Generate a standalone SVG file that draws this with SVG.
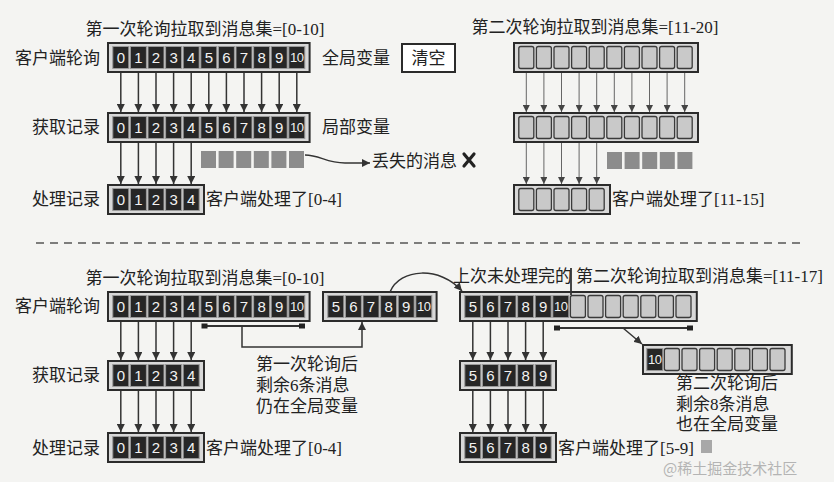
<svg xmlns="http://www.w3.org/2000/svg" width="834" height="482" viewBox="0 0 834 482">
<defs>
<style>
.bg{fill:#f4f4f2}
.t{font-family:"Liberation Serif","Noto Sans CJK SC",serif;font-size:17px;fill:#222}
.n{font-family:"Liberation Sans","Open Sans",sans-serif;font-size:15px;fill:#f2f2f2;text-anchor:middle}
.n10{font-family:"Liberation Sans","Open Sans",sans-serif;font-size:13px;fill:#f2f2f2;text-anchor:middle;letter-spacing:-0.5px}
.ob{fill:#d8d8d8;stroke:#2b2b2b;stroke-width:2}
.dc{fill:#262626;stroke:#9a9a9a;stroke-width:1}
.lc{fill:#c9c9c9;stroke:#3a3a3a;stroke-width:1.3}
.lost{fill:#8c8c8c}
.ar{stroke:#333;stroke-width:1.5;fill:none;marker-end:url(#ah)}
.art{stroke:#666;stroke-width:1;fill:none;marker-end:url(#ahs)}
.ln{stroke:#333;stroke-width:1.8;fill:none}
.sq{fill:#222}
</style>
<marker id="ah" viewBox="0 0 8 8" refX="8" refY="4" markerWidth="8" markerHeight="8" markerUnits="userSpaceOnUse" orient="auto"><path d="M0,0 L8,4 L0,8 z" fill="#333"/></marker>
<marker id="ahs" viewBox="0 0 8 8" refX="8" refY="4" markerWidth="7" markerHeight="7" markerUnits="userSpaceOnUse" orient="auto"><path d="M0,0 L8,4 L0,8 z" fill="#444"/></marker>
</defs>
<rect class="bg" x="0" y="0" width="834" height="482"/>

<!-- ===== TOP SECTION ===== -->
<text class="t" x="205" y="35" text-anchor="middle">第一次轮询拉取到消息集=[0-10]</text>
<text class="t" x="595" y="33" text-anchor="middle">第二次轮询拉取到消息集=[11-20]</text>

<g id="top-left-poll">
<text class="t" x="100" y="64" text-anchor="end">客户端轮询</text>
<rect class="ob" x="108" y="43" width="201.6" height="29"/>
<rect class="dc" x="112.8" y="46.5" width="16" height="22"/><text class="n" x="120.8" y="63">0</text>
<rect class="dc" x="130.4" y="46.5" width="16" height="22"/><text class="n" x="138.4" y="63">1</text>
<rect class="dc" x="148" y="46.5" width="16" height="22"/><text class="n" x="156" y="63">2</text>
<rect class="dc" x="165.6" y="46.5" width="16" height="22"/><text class="n" x="173.6" y="63">3</text>
<rect class="dc" x="183.2" y="46.5" width="16" height="22"/><text class="n" x="191.2" y="63">4</text>
<rect class="dc" x="200.8" y="46.5" width="16" height="22"/><text class="n" x="208.8" y="63">5</text>
<rect class="dc" x="218.4" y="46.5" width="16" height="22"/><text class="n" x="226.4" y="63">6</text>
<rect class="dc" x="236" y="46.5" width="16" height="22"/><text class="n" x="244" y="63">7</text>
<rect class="dc" x="253.6" y="46.5" width="16" height="22"/><text class="n" x="261.6" y="63">8</text>
<rect class="dc" x="271.2" y="46.5" width="16" height="22"/><text class="n" x="279.2" y="63">9</text>
<rect class="dc" x="288.8" y="46.5" width="16" height="22"/><text class="n10" x="296.8" y="62">10</text>
<text class="t" x="322" y="64">全局变量</text>
</g>

<g id="top-clear">
<rect x="402" y="44" width="53" height="28" fill="#ffffff" stroke="#2b2b2b" stroke-width="2"/>
<text class="t" x="428.5" y="64" text-anchor="middle">清空</text>
</g>

<g id="top-left-fetch">
<text class="t" x="100" y="133" text-anchor="end">获取记录</text>
<rect class="ob" x="108" y="113" width="201.6" height="29"/>
<rect class="dc" x="112.8" y="116.5" width="16" height="22"/><text class="n" x="120.8" y="133">0</text>
<rect class="dc" x="130.4" y="116.5" width="16" height="22"/><text class="n" x="138.4" y="133">1</text>
<rect class="dc" x="148" y="116.5" width="16" height="22"/><text class="n" x="156" y="133">2</text>
<rect class="dc" x="165.6" y="116.5" width="16" height="22"/><text class="n" x="173.6" y="133">3</text>
<rect class="dc" x="183.2" y="116.5" width="16" height="22"/><text class="n" x="191.2" y="133">4</text>
<rect class="dc" x="200.8" y="116.5" width="16" height="22"/><text class="n" x="208.8" y="133">5</text>
<rect class="dc" x="218.4" y="116.5" width="16" height="22"/><text class="n" x="226.4" y="133">6</text>
<rect class="dc" x="236" y="116.5" width="16" height="22"/><text class="n" x="244" y="133">7</text>
<rect class="dc" x="253.6" y="116.5" width="16" height="22"/><text class="n" x="261.6" y="133">8</text>
<rect class="dc" x="271.2" y="116.5" width="16" height="22"/><text class="n" x="279.2" y="133">9</text>
<rect class="dc" x="288.8" y="116.5" width="16" height="22"/><text class="n10" x="296.8" y="132">10</text>
<text class="t" x="322" y="133">局部变量</text>
</g>

<g id="top-left-lost">
<rect class="lost" x="201" y="151" width="15" height="17"/>
<rect class="lost" x="218.6" y="151" width="15" height="17"/>
<rect class="lost" x="236.2" y="151" width="15" height="17"/>
<rect class="lost" x="253.8" y="151" width="15" height="17"/>
<rect class="lost" x="271.4" y="151" width="15" height="17"/>
<rect class="lost" x="289" y="151" width="15" height="17"/>
<text class="t" x="372" y="167">丢失的消息</text>
<path d="M464,154 L474,166 M474,154 L464,166" stroke="#222" stroke-width="3.2" stroke-linecap="round" fill="none"/>
</g>

<g id="top-left-process">
<text class="t" x="100" y="205" text-anchor="end">处理记录</text>
<rect class="ob" x="108" y="185" width="96" height="29"/>
<rect class="dc" x="112.8" y="188.5" width="16" height="22"/><text class="n" x="120.8" y="205">0</text>
<rect class="dc" x="130.4" y="188.5" width="16" height="22"/><text class="n" x="138.4" y="205">1</text>
<rect class="dc" x="148" y="188.5" width="16" height="22"/><text class="n" x="156" y="205">2</text>
<rect class="dc" x="165.6" y="188.5" width="16" height="22"/><text class="n" x="173.6" y="205">3</text>
<rect class="dc" x="183.2" y="188.5" width="16" height="22"/><text class="n" x="191.2" y="205">4</text>
<text class="t" x="206" y="205">客户端处理了[0-4]</text>
</g>

<g id="top-right-poll">
<rect class="ob" x="514" y="43" width="184" height="29"/>
<rect class="lc" x="518.8" y="46.5" width="15" height="22" rx="2"/>
<rect class="lc" x="536.4" y="46.5" width="15" height="22" rx="2"/>
<rect class="lc" x="554" y="46.5" width="15" height="22" rx="2"/>
<rect class="lc" x="571.6" y="46.5" width="15" height="22" rx="2"/>
<rect class="lc" x="589.2" y="46.5" width="15" height="22" rx="2"/>
<rect class="lc" x="606.8" y="46.5" width="15" height="22" rx="2"/>
<rect class="lc" x="624.4" y="46.5" width="15" height="22" rx="2"/>
<rect class="lc" x="642" y="46.5" width="15" height="22" rx="2"/>
<rect class="lc" x="659.6" y="46.5" width="15" height="22" rx="2"/>
<rect class="lc" x="677.2" y="46.5" width="15" height="22" rx="2"/>
</g>

<g id="top-right-fetch">
<rect class="ob" x="514" y="113" width="184" height="29"/>
<rect class="lc" x="518.8" y="116.5" width="15" height="22" rx="2"/>
<rect class="lc" x="536.4" y="116.5" width="15" height="22" rx="2"/>
<rect class="lc" x="554" y="116.5" width="15" height="22" rx="2"/>
<rect class="lc" x="571.6" y="116.5" width="15" height="22" rx="2"/>
<rect class="lc" x="589.2" y="116.5" width="15" height="22" rx="2"/>
<rect class="lc" x="606.8" y="116.5" width="15" height="22" rx="2"/>
<rect class="lc" x="624.4" y="116.5" width="15" height="22" rx="2"/>
<rect class="lc" x="642" y="116.5" width="15" height="22" rx="2"/>
<rect class="lc" x="659.6" y="116.5" width="15" height="22" rx="2"/>
<rect class="lc" x="677.2" y="116.5" width="15" height="22" rx="2"/>
</g>

<g id="top-right-lost">
<rect class="lost" x="607" y="152" width="15" height="17"/>
<rect class="lost" x="624.6" y="152" width="15" height="17"/>
<rect class="lost" x="642.2" y="152" width="15" height="17"/>
<rect class="lost" x="659.8" y="152" width="15" height="17"/>
<rect class="lost" x="677.4" y="152" width="15" height="17"/>
</g>

<g id="top-right-process">
<rect class="ob" x="514" y="185" width="96" height="29"/>
<rect class="lc" x="518.8" y="188.5" width="15" height="22" rx="2"/>
<rect class="lc" x="536.4" y="188.5" width="15" height="22" rx="2"/>
<rect class="lc" x="554" y="188.5" width="15" height="22" rx="2"/>
<rect class="lc" x="571.6" y="188.5" width="15" height="22" rx="2"/>
<rect class="lc" x="589.2" y="188.5" width="15" height="22" rx="2"/>
<text class="t" x="612" y="205">客户端处理了[11-15]</text>
</g>

<line id="divider" x1="36" y1="243" x2="804" y2="243" stroke="#555" stroke-width="1.5" stroke-dasharray="8 6"/>

<!-- ===== BOTTOM SECTION ===== -->
<text class="t" x="205" y="284" text-anchor="middle">第一次轮询拉取到消息集=[0-10]</text>
<text class="t" x="453" y="282">上次未处理完的</text>
<text class="t" x="576" y="282">第二次轮询拉取到消息集=[11-17]</text>

<g id="bot-left-poll">
<text class="t" x="100" y="312" text-anchor="end">客户端轮询</text>
<rect class="ob" x="108" y="292" width="201.6" height="29"/>
<rect class="dc" x="112.8" y="295.5" width="16" height="22"/><text class="n" x="120.8" y="312">0</text>
<rect class="dc" x="130.4" y="295.5" width="16" height="22"/><text class="n" x="138.4" y="312">1</text>
<rect class="dc" x="148" y="295.5" width="16" height="22"/><text class="n" x="156" y="312">2</text>
<rect class="dc" x="165.6" y="295.5" width="16" height="22"/><text class="n" x="173.6" y="312">3</text>
<rect class="dc" x="183.2" y="295.5" width="16" height="22"/><text class="n" x="191.2" y="312">4</text>
<rect class="dc" x="200.8" y="295.5" width="16" height="22"/><text class="n" x="208.8" y="312">5</text>
<rect class="dc" x="218.4" y="295.5" width="16" height="22"/><text class="n" x="226.4" y="312">6</text>
<rect class="dc" x="236" y="295.5" width="16" height="22"/><text class="n" x="244" y="312">7</text>
<rect class="dc" x="253.6" y="295.5" width="16" height="22"/><text class="n" x="261.6" y="312">8</text>
<rect class="dc" x="271.2" y="295.5" width="16" height="22"/><text class="n" x="279.2" y="312">9</text>
<rect class="dc" x="288.8" y="295.5" width="16" height="22"/><text class="n10" x="296.8" y="311">10</text>
</g>

<g id="bot-left-remain">
<rect class="ob" x="323" y="292" width="113.6" height="29"/>
<rect class="dc" x="327.8" y="295.5" width="16" height="22"/><text class="n" x="335.8" y="312">5</text>
<rect class="dc" x="345.4" y="295.5" width="16" height="22"/><text class="n" x="353.4" y="312">6</text>
<rect class="dc" x="363" y="295.5" width="16" height="22"/><text class="n" x="371" y="312">7</text>
<rect class="dc" x="380.6" y="295.5" width="16" height="22"/><text class="n" x="388.6" y="312">8</text>
<rect class="dc" x="398.2" y="295.5" width="16" height="22"/><text class="n" x="406.2" y="312">9</text>
<rect class="dc" x="415.8" y="295.5" width="16" height="22"/><text class="n10" x="423.8" y="311">10</text>
</g>

<g id="bot-left-note">
<text class="t" x="256" y="370">第一次轮询后</text>
<text class="t" x="256" y="391">剩余6条消息</text>
<text class="t" x="256" y="412">仍在全局变量</text>
</g>

<g id="bot-left-fetch">
<text class="t" x="100" y="381" text-anchor="end">获取记录</text>
<rect class="ob" x="108" y="361" width="96" height="29"/>
<rect class="dc" x="112.8" y="364.5" width="16" height="22"/><text class="n" x="120.8" y="381">0</text>
<rect class="dc" x="130.4" y="364.5" width="16" height="22"/><text class="n" x="138.4" y="381">1</text>
<rect class="dc" x="148" y="364.5" width="16" height="22"/><text class="n" x="156" y="381">2</text>
<rect class="dc" x="165.6" y="364.5" width="16" height="22"/><text class="n" x="173.6" y="381">3</text>
<rect class="dc" x="183.2" y="364.5" width="16" height="22"/><text class="n" x="191.2" y="381">4</text>
</g>

<g id="bot-left-process">
<text class="t" x="100" y="454" text-anchor="end">处理记录</text>
<rect class="ob" x="108" y="433" width="96" height="29"/>
<rect class="dc" x="112.8" y="436.5" width="16" height="22"/><text class="n" x="120.8" y="453">0</text>
<rect class="dc" x="130.4" y="436.5" width="16" height="22"/><text class="n" x="138.4" y="453">1</text>
<rect class="dc" x="148" y="436.5" width="16" height="22"/><text class="n" x="156" y="453">2</text>
<rect class="dc" x="165.6" y="436.5" width="16" height="22"/><text class="n" x="173.6" y="453">3</text>
<rect class="dc" x="183.2" y="436.5" width="16" height="22"/><text class="n" x="191.2" y="453">4</text>
<text class="t" x="206" y="454">客户端处理了[0-4]</text>
</g>

<g id="bot-right-poll">
<rect class="ob" x="460" y="292" width="236.8" height="29"/>
<rect class="dc" x="464.8" y="295.5" width="16" height="22"/><text class="n" x="472.8" y="312">5</text>
<rect class="dc" x="482.4" y="295.5" width="16" height="22"/><text class="n" x="490.4" y="312">6</text>
<rect class="dc" x="500" y="295.5" width="16" height="22"/><text class="n" x="508" y="312">7</text>
<rect class="dc" x="517.6" y="295.5" width="16" height="22"/><text class="n" x="525.6" y="312">8</text>
<rect class="dc" x="535.2" y="295.5" width="16" height="22"/><text class="n" x="543.2" y="312">9</text>
<rect class="dc" x="552.8" y="295.5" width="16" height="22"/><text class="n10" x="560.8" y="311">10</text>
<rect class="lc" x="570.4" y="295.5" width="15" height="22" rx="2"/>
<rect class="lc" x="588" y="295.5" width="15" height="22" rx="2"/>
<rect class="lc" x="605.6" y="295.5" width="15" height="22" rx="2"/>
<rect class="lc" x="623.2" y="295.5" width="15" height="22" rx="2"/>
<rect class="lc" x="640.8" y="295.5" width="15" height="22" rx="2"/>
<rect class="lc" x="658.4" y="295.5" width="15" height="22" rx="2"/>
<rect class="lc" x="676" y="295.5" width="15" height="22" rx="2"/>
</g>

<g id="bot-right-remain">
<rect class="ob" x="643" y="345" width="148.8" height="29"/>
<rect class="dc" x="646.8" y="348.5" width="16" height="22"/><text class="n10" x="654.8" y="364">10</text>
<rect class="lc" x="664.4" y="348.5" width="15" height="22" rx="2"/>
<rect class="lc" x="682" y="348.5" width="15" height="22" rx="2"/>
<rect class="lc" x="699.6" y="348.5" width="15" height="22" rx="2"/>
<rect class="lc" x="717.2" y="348.5" width="15" height="22" rx="2"/>
<rect class="lc" x="734.8" y="348.5" width="15" height="22" rx="2"/>
<rect class="lc" x="752.4" y="348.5" width="15" height="22" rx="2"/>
<rect class="lc" x="770" y="348.5" width="15" height="22" rx="2"/>
</g>

<g id="bot-right-note">
<text class="t" x="676" y="389">第二次轮询后</text>
<text class="t" x="676" y="410">剩余8条消息</text>
<text class="t" x="676" y="430">也在全局变量</text>
</g>

<g id="bot-right-fetch">
<rect class="ob" x="460" y="361" width="96" height="29"/>
<rect class="dc" x="464.8" y="364.5" width="16" height="22"/><text class="n" x="472.8" y="381">5</text>
<rect class="dc" x="482.4" y="364.5" width="16" height="22"/><text class="n" x="490.4" y="381">6</text>
<rect class="dc" x="500" y="364.5" width="16" height="22"/><text class="n" x="508" y="381">7</text>
<rect class="dc" x="517.6" y="364.5" width="16" height="22"/><text class="n" x="525.6" y="381">8</text>
<rect class="dc" x="535.2" y="364.5" width="16" height="22"/><text class="n" x="543.2" y="381">9</text>
</g>

<g id="bot-right-process">
<rect class="ob" x="460" y="433" width="96" height="29"/>
<rect class="dc" x="464.8" y="436.5" width="16" height="22"/><text class="n" x="472.8" y="453">5</text>
<rect class="dc" x="482.4" y="436.5" width="16" height="22"/><text class="n" x="490.4" y="453">6</text>
<rect class="dc" x="500" y="436.5" width="16" height="22"/><text class="n" x="508" y="453">7</text>
<rect class="dc" x="517.6" y="436.5" width="16" height="22"/><text class="n" x="525.6" y="453">8</text>
<rect class="dc" x="535.2" y="436.5" width="16" height="22"/><text class="n" x="543.2" y="453">9</text>
<text class="t" x="558" y="454">客户端处理了[5-9]</text>
<rect x="701" y="440" width="11" height="13" fill="#a8a8a8"/>
</g>

<text id="watermark" x="663" y="474" font-family="'Noto Sans CJK SC',sans-serif" font-size="15" fill="#b4b4b4">@稀土掘金技术社区</text>

<!-- ===== CONNECTORS ===== -->
<g id="connectors">
<line class="ar" x1="120.8" y1="73" x2="120.8" y2="112"/>
<line class="ar" x1="138.4" y1="73" x2="138.4" y2="112"/>
<line class="ar" x1="156" y1="73" x2="156" y2="112"/>
<line class="ar" x1="173.6" y1="73" x2="173.6" y2="112"/>
<line class="ar" x1="191.2" y1="73" x2="191.2" y2="112"/>
<line class="ar" x1="208.8" y1="73" x2="208.8" y2="112"/>
<line class="ar" x1="226.4" y1="73" x2="226.4" y2="112"/>
<line class="ar" x1="244" y1="73" x2="244" y2="112"/>
<line class="ar" x1="261.6" y1="73" x2="261.6" y2="112"/>
<line class="ar" x1="279.2" y1="73" x2="279.2" y2="112"/>
<line class="ar" x1="296.8" y1="73" x2="296.8" y2="112"/>
<line class="ar" x1="120.8" y1="143" x2="120.8" y2="184"/>
<line class="ar" x1="138.4" y1="143" x2="138.4" y2="184"/>
<line class="ar" x1="156" y1="143" x2="156" y2="184"/>
<line class="ar" x1="173.6" y1="143" x2="173.6" y2="184"/>
<line class="ar" x1="191.2" y1="143" x2="191.2" y2="184"/>
<path class="ar" d="M305,155 C320,155 326,163 345,163 L370,163"/>
<line class="art" x1="526.3" y1="73" x2="526.3" y2="112"/>
<line class="art" x1="543.9" y1="73" x2="543.9" y2="112"/>
<line class="art" x1="561.5" y1="73" x2="561.5" y2="112"/>
<line class="art" x1="579.1" y1="73" x2="579.1" y2="112"/>
<line class="art" x1="596.7" y1="73" x2="596.7" y2="112"/>
<line class="art" x1="614.3" y1="73" x2="614.3" y2="112"/>
<line class="art" x1="631.9" y1="73" x2="631.9" y2="112"/>
<line class="art" x1="649.5" y1="73" x2="649.5" y2="112"/>
<line class="art" x1="667.1" y1="73" x2="667.1" y2="112"/>
<line class="art" x1="684.7" y1="73" x2="684.7" y2="112"/>
<line class="art" x1="526.3" y1="143" x2="526.3" y2="184"/>
<line class="art" x1="543.9" y1="143" x2="543.9" y2="184"/>
<line class="art" x1="561.5" y1="143" x2="561.5" y2="184"/>
<line class="art" x1="579.1" y1="143" x2="579.1" y2="184"/>
<line class="art" x1="596.7" y1="143" x2="596.7" y2="184"/>
<line class="ar" x1="120.8" y1="322" x2="120.8" y2="360"/>
<line class="ar" x1="138.4" y1="322" x2="138.4" y2="360"/>
<line class="ar" x1="156" y1="322" x2="156" y2="360"/>
<line class="ar" x1="173.6" y1="322" x2="173.6" y2="360"/>
<line class="ar" x1="191.2" y1="322" x2="191.2" y2="360"/>
<line class="ar" x1="120.8" y1="391" x2="120.8" y2="432"/>
<line class="ar" x1="138.4" y1="391" x2="138.4" y2="432"/>
<line class="ar" x1="156" y1="391" x2="156" y2="432"/>
<line class="ar" x1="173.6" y1="391" x2="173.6" y2="432"/>
<line class="ar" x1="191.2" y1="391" x2="191.2" y2="432"/>
<line class="ln" x1="205" y1="326" x2="302" y2="326"/>
<rect class="sq" x="201.5" y="323.5" width="6" height="5"/>
<rect class="sq" x="299" y="323.5" width="6" height="5"/>
<path class="ar" d="M242,326 L242,347 L362,347 L362,322"/>
<path class="ar" d="M390,292 C400,268 440,266 462,291"/>
<line class="ln" x1="571" y1="268" x2="571" y2="295"/>
<line class="ar" x1="472.8" y1="322" x2="472.8" y2="360"/>
<line class="ar" x1="490.4" y1="322" x2="490.4" y2="360"/>
<line class="ar" x1="508" y1="322" x2="508" y2="360"/>
<line class="ar" x1="525.6" y1="322" x2="525.6" y2="360"/>
<line class="ar" x1="543.2" y1="322" x2="543.2" y2="360"/>
<line class="ar" x1="472.8" y1="391" x2="472.8" y2="432"/>
<line class="ar" x1="490.4" y1="391" x2="490.4" y2="432"/>
<line class="ar" x1="508" y1="391" x2="508" y2="432"/>
<line class="ar" x1="525.6" y1="391" x2="525.6" y2="432"/>
<line class="ar" x1="543.2" y1="391" x2="543.2" y2="432"/>
<line class="ln" x1="558" y1="328" x2="689" y2="328"/>
<rect class="sq" x="554" y="325.5" width="6" height="5"/>
<rect class="sq" x="687" y="325.5" width="6" height="5"/>
<path class="ar" d="M623,328 L642,344"/>
</g>
</svg>
